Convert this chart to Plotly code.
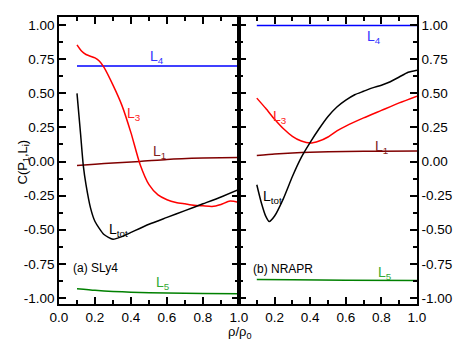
import plotly.graph_objects as go

# ---------------- data ----------------
# (a) SLy4
x_L3_a = [0.1, 0.125, 0.15, 0.175, 0.2, 0.225, 0.25, 0.3, 0.35, 0.4, 0.45, 0.5, 0.55, 0.6, 0.65, 0.7, 0.75, 0.8, 0.85, 0.9, 0.95, 1.0]
L3_a = [0.855, 0.81, 0.785, 0.772, 0.76, 0.735, 0.69, 0.56, 0.41, 0.21, -0.02, -0.17, -0.245, -0.28, -0.30, -0.31, -0.32, -0.325, -0.33, -0.315, -0.29, -0.30]
x_Ltot_a = [0.1, 0.12, 0.135, 0.15, 0.175, 0.2, 0.25, 0.3, 0.35, 0.4, 0.5, 0.6, 0.7, 0.8, 0.9, 1.0]
Ltot_a = [0.50, 0.20, -0.03, -0.17, -0.34, -0.44, -0.535, -0.57, -0.55, -0.52, -0.46, -0.41, -0.36, -0.31, -0.26, -0.205]
x_L1_a = [0.1, 0.2, 0.3, 0.45, 0.6, 0.8, 1.0]
L1_a = [-0.03, -0.02, -0.01, 0.0, 0.015, 0.025, 0.03]
x_L4_a = [0.1, 1.0]
L4_a = [0.70, 0.70]
x_L5_a = [0.1, 0.2, 0.3, 0.4, 0.6, 0.8, 1.0]
L5_a = [-0.933, -0.945, -0.953, -0.958, -0.965, -0.968, -0.97]

# (b) NRAPR
x_L3_b = [0.1, 0.15, 0.2, 0.25, 0.3, 0.35, 0.4, 0.45, 0.5, 0.55, 0.6, 0.7, 0.8, 0.9, 1.0]
L3_b = [0.465, 0.39, 0.31, 0.24, 0.185, 0.15, 0.135, 0.15, 0.18, 0.225, 0.26, 0.32, 0.375, 0.43, 0.48]
x_Ltot_b = [0.1, 0.125, 0.15, 0.17, 0.2, 0.25, 0.3, 0.35, 0.4, 0.45, 0.5, 0.55, 0.6, 0.65, 0.7, 0.75, 0.8, 0.85, 0.9, 0.95, 1.0]
Ltot_b = [-0.17, -0.30, -0.40, -0.44, -0.40, -0.27, -0.11, 0.03, 0.14, 0.24, 0.33, 0.40, 0.45, 0.49, 0.515, 0.54, 0.56, 0.585, 0.62, 0.655, 0.67]
x_L1_b = [0.1, 0.2, 0.3, 0.4, 0.6, 0.8, 1.0]
L1_b = [0.044, 0.055, 0.063, 0.068, 0.073, 0.076, 0.077]
x_L4_b = [0.1, 1.0]
L4_b = [0.997, 0.997]
x_L5_b = [0.1, 0.3, 0.6, 1.0]
L5_b = [-0.865, -0.868, -0.870, -0.872]

y_tickvals = [-1.0, -0.75, -0.5, -0.25, 0.0, 0.25, 0.5, 0.75, 1.0]
y_ticktext = ['-1.00', '-0.75', '-0.50', '-0.25', '0.00', '0.25', '0.50', '0.75', '1.00']
x_tickvals = [0.0, 0.2, 0.4, 0.6, 0.8, 1.0]
x_ticktext_a = ['0.0', '0.2', '0.4', '0.6', '0.8', '1.0']
x_ticktext_b = ['', '0.2', '0.4', '0.6', '0.8', '1.0']

# ---------------- styles ----------------
C_L4, C_L3, C_L1, C_TOT, C_L5 = '#0000ff', '#ff0000', '#800000', '#000000', '#008000'
FONT = 'Liberation Sans, Arial, sans-serif'

# page has an 8px body margin -> figure is shifted by 8px; compensate
OFF = 8
W, H = 463 - OFF, 358 - OFF
ML, MR, MT, MB = 59 - OFF, 46, 17 - OFF, 54

fig = go.Figure()

def add(x, y, color, xa, ya):
    fig.add_trace(go.Scatter(x=x, y=y, mode='lines', xaxis=xa, yaxis=ya,
                             line=dict(color=color, width=1.5, shape='spline', smoothing=0.6),
                             showlegend=False, hoverinfo='skip'))

add(x_L4_a, L4_a, C_L4, 'x', 'y')
add(x_L1_a, L1_a, C_L1, 'x', 'y')
add(x_L5_a, L5_a, C_L5, 'x', 'y')
add(x_L3_a, L3_a, C_L3, 'x', 'y')
add(x_Ltot_a, Ltot_a, C_TOT, 'x', 'y')

add(x_L4_b, L4_b, C_L4, 'x2', 'y2')
add(x_L1_b, L1_b, C_L1, 'x2', 'y2')
add(x_L5_b, L5_b, C_L5, 'x2', 'y2')
add(x_L3_b, L3_b, C_L3, 'x2', 'y2')
add(x_Ltot_b, Ltot_b, C_TOT, 'x2', 'y2')

split = 180 / 358

axis_common = dict(showline=True, linecolor='black', linewidth=1.5, ticks='inside',
                   ticklen=7, tickwidth=1.5, tickcolor='black', showgrid=False, zeroline=False,
                   mirror='ticks', automargin=False,
                   tickfont=dict(family=FONT, size=13.5, color='black'))
minor_x = dict(dtick=0.1, tick0=0, ticks='inside', ticklen=4, tickwidth=1.5, tickcolor='black')
minor_y = dict(dtick=0.125, tick0=0, ticks='inside', ticklen=4, tickwidth=1.5, tickcolor='black')

fig.update_layout(
    width=W, height=H,
    margin=dict(l=ML, r=MR, t=MT, b=MB),
    paper_bgcolor='white', plot_bgcolor='white',
    xaxis=dict(domain=[0, split], range=[0, 1], anchor='y', tickmode='array',
               tickvals=x_tickvals, ticktext=x_ticktext_a, minor=minor_x, **axis_common),
    xaxis2=dict(domain=[split, 1], range=[0, 1], anchor='y2', tickmode='array',
                tickvals=x_tickvals, ticktext=x_ticktext_b, minor=minor_x, **axis_common),
    yaxis=dict(range=[-1.045, 1.06], anchor='x', tickmode='array',
               tickvals=y_tickvals, ticktext=y_ticktext, minor=minor_y, **axis_common),
    yaxis2=dict(range=[-1.045, 1.06], anchor='x2', side='right', tickmode='array',
                tickvals=y_tickvals, ticktext=y_ticktext, minor=minor_y, **axis_common),
)

def label(x, y, text, color, xref, yref, size=14, xanchor='center'):
    fig.add_annotation(x=x, y=y, xref=xref, yref=yref, text=text, showarrow=False,
                       xanchor=xanchor, yanchor='middle',
                       font=dict(family=FONT, size=size, color=color))

label(0.545, 0.77, 'L<sub>4</sub>', '#3333ff', 'x', 'y')
label(0.415, 0.35, 'L<sub>3</sub>', '#ff2020', 'x', 'y')
label(0.56, 0.07, 'L<sub>1</sub>', '#802020', 'x', 'y')
label(0.33, -0.50, 'L<sub>tot</sub>', '#000000', 'x', 'y')
label(0.58, -0.89, 'L<sub>5</sub>', '#33aa33', 'x', 'y')
label(0.065, -0.78, '(a) SLy4', '#000000', 'x', 'y', size=12, xanchor='left')

label(0.76, 0.91, 'L<sub>4</sub>', '#3333ff', 'x2', 'y2')
label(0.23, 0.33, 'L<sub>3</sub>', '#ff2020', 'x2', 'y2')
label(0.80, 0.11, 'L<sub>1</sub>', '#802020', 'x2', 'y2')
label(0.19, -0.26, 'L<sub>tot</sub>', '#000000', 'x2', 'y2')
label(0.82, -0.82, 'L<sub>5</sub>', '#33aa33', 'x2', 'y2')
label(0.065, -0.79, '(b) NRAPR', '#000000', 'x2', 'y2', size=12, xanchor='left')

# axis titles (positions given in page pixels, converted to paper coords)
pw, ph = W - ML - MR, H - MT - MB
def page_to_paper(px, py):
    return (px - OFF - ML) / pw, (H - MB - (py - OFF)) / ph

tx, ty = page_to_paper(12, 162)
fig.add_annotation(x=tx, y=ty, xref='paper', yref='paper', text='C(P<sub>1</sub>,L<sub>i</sub>)',
                   showarrow=False, textangle=-90, font=dict(family=FONT, size=13, color='black'))
tx, ty = page_to_paper(239, 343)
fig.add_annotation(x=tx, y=ty, xref='paper', yref='paper', text='ρ/ρ<sub>0</sub>', showarrow=False,
                   font=dict(family=FONT, size=13, color='black'))

fig.write_html('out.html')
